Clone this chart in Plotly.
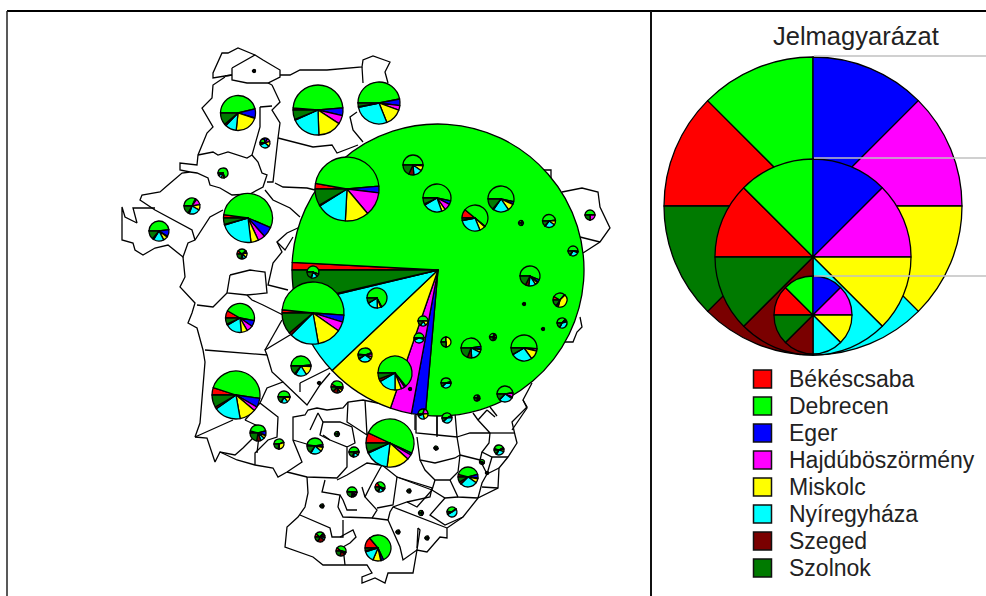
import plotly.graph_objects as go

W, H = 986, 596
CITIES = ["Békéscsaba", "Debrecen", "Eger", "Hajdúböszörmény", "Miskolc", "Nyíregyháza", "Szeged", "Szolnok"]
COLORS = ["#ff0000", "#00ff00", "#0000ff", "#ff00ff", "#ffff00", "#00ffff", "#7a0000", "#007a00"]
LEGEND_TITLE = "Jelmagyarázat"
LEGEND_Y = [379, 406, 433, 460, 487, 514, 541, 568]

# map boundaries (picture coordinates)
MAP_LINES = [
 [(232,68),(247,60),(255,55),(263,60),(280,70),(280,77),(268,83),(247,83),(232,80),(232,68)],
 [(255,55),(238,48),(228,53),(222,53),(213,73),(213,78),(225,76),(232,75)],
 [(225,77),(213,85),(212,98),(202,108),(213,127),(207,133),(198,155),(197,165),(180,163),(180,170),(190,172),(182,173),(168,185),(160,192),(142,195),(140,200),(155,210),(168,217),(192,230),(195,240)],
 [(155,208),(133,208),(137,223),(125,217),(122,207),(122,240),(133,243),(135,250),(143,255),(155,248),(168,245),(183,257),(188,243),(195,240),(210,217),(223,210)],
 [(183,257),(185,277),(180,287),(192,300),(195,303),(192,313),(188,323),(197,328),(203,350),(205,362),(200,423),(195,437),(233,420)],
 [(195,437),(207,438),(215,462),(220,452),(235,455),(243,448),(258,433)],
 [(220,452),(237,460),(255,465),(273,468),(278,477),(287,472),(302,462),(293,440),(293,417),(305,415),(308,410),(317,408),(327,410),(343,408),(348,402),(363,400),(392,406)],
 [(255,465),(255,453),(268,440),(277,437),(278,417),(260,403),(267,388),(283,382),(307,405),(320,385),(330,373)],
 [(245,420),(260,427),(257,453)],[(260,403),(245,420)],
 [(287,472),(307,477),(337,478),(347,467),(347,447),(330,440),(320,435),(323,422),(340,422),(352,427),(355,443),(347,447)],
 [(307,477),(308,493),(305,507),(298,517),(287,527),(285,547),(313,557),(323,565),(343,565),(367,565),(372,573),(362,577),(362,583),(375,578),(385,583),(388,573),(413,573),(417,550),(427,552),(440,537),(447,538),(447,528),(463,517),(478,498),(498,488),(499,468),(508,457),(517,443),(515,435),(512,422),(527,407),(523,400),(532,383)],
 [(416,413),(416,433),(437,435),(437,413)],[(437,435),(457,437),(455,413)],[(473,413),(478,420),(490,433),(470,433),(457,437)],
 [(490,433),(515,433)],[(490,433),(489,443),(482,452),(492,457),(508,457)],[(482,452),(480,460),(487,474),(482,483),(478,498)],[(487,474),(499,468)],[(492,457),(487,474)],[(482,487),(498,488)],
 [(417,437),(420,460),(435,463),(455,458),(460,455),(457,437)],[(460,455),(480,460)],[(420,460),(425,470),(435,480),(450,480),(458,472),(460,455)],
 [(450,480),(458,497),(478,498)],[(435,480),(432,490),(445,498),(458,497)],[(432,490),(400,478),(397,477),(382,465)],[(432,490),(417,507),(407,502),(393,507),(390,512),(388,520),(400,547),(403,560),(417,550),(420,530),(418,528)],
 [(445,498),(430,515),(445,525),(463,517)],[(393,507),(447,528)],[(418,528),(417,548)],
 [(205,350),(267,355),(265,350),(290,335)],[(267,355),(272,372),(283,382)],[(300,383),(330,368)],[(300,383),(300,392)],
 [(348,402),(347,422),(367,435),(365,400)],[(310,430),(318,413),(323,422)],[(293,440),(310,445)],[(323,435),(330,440)],[(415,415),(415,430)],[(437,415),(437,437)],
 [(380,465),(367,463),(347,475),(337,480)],[(325,480),(322,492),(340,495),(338,507),(343,517),(372,518),(377,510),(365,497),(372,483),(382,465)],
 [(397,477),(393,505),(377,508)],[(397,477),(432,488),(430,497),(407,502)],[(362,487),(365,497)],
 [(300,515),(330,528),(332,537),(343,537),(343,520)],[(340,537),(353,530),(356,537),(350,543),(343,547),(345,565)],[(357,510),(347,510),(343,500),(340,495)],[(388,520),(372,518)],
 [(225,76),(232,75)],[(272,85),(280,102),(272,110),(280,123),(278,138),(273,182),(267,182)],[(268,83),(272,85)],
 [(260,107),(272,106)],[(260,107),(260,127),(252,155),(258,162),(262,173),(267,175),(263,187),(250,194),(232,195),(220,188),(210,185),(208,178),(197,173),(190,172)],
 [(198,155),(213,152),(218,155),(228,152),(247,158),(252,155)],
 [(280,75),(290,75),(300,70),(327,70),(362,67),(363,60),(373,56),(390,62),(385,72),(388,83)],[(362,67),(363,83)],[(357,112),(350,117),(353,130),(363,142)],
 [(278,138),(313,147),(332,145),(337,153),(358,145)],[(275,183),(283,187),(307,188),(315,190)],[(265,190),(273,200),(290,208),(300,217)],
 [(300,227),(287,233),(277,242),(282,252),(273,263),(268,285),(288,290)],[(277,242),(285,250),(293,237)],
 [(230,275),(227,293),(247,295),(267,293),(265,272),(250,270),(230,275)],[(197,305),(213,307),(227,293)],[(247,295),(252,300),(263,305),(283,315)],[(265,350),(282,320)],
 [(543,170),(551,170),(551,178)],[(562,192),(582,188),(598,192),(600,207),(610,228),(600,242),(583,253)],[(600,242),(580,237)],[(580,317),(582,327),(577,332),(573,342),(565,342)],
 [(523,400),(527,408),(512,430)],[(487,410),(495,417)],[(490,407),(497,416)],[(478,420),(487,410)],
]

# pie symbols: centre, radius, share per city (degrees of each circle)
BIG_X, BIG_Y, BIG_R = 438, 270, 146
BIG_SHARES = [3, 272, 5.5, 8.5, 27.5, 30, 0.5, 13]
PIE_X = [238,318,379,265,223,192,159,248,242,347,313,377,313,240,236,301,284,258,279,315,354,390,337,319,337,380,352,322,409,421,398,427,320,341,378,436,452,468,499,482,487,413,437,501,475,521,549,573,530,524,560,562,543,493,524,471,446,446,477,505,423,419,395,410,423,447,590,254,365]
PIE_Y = [113,110,103,143,173,206,231,218,254,189,272,298,313,318,395,366,397,433,444,446,452,443,387,383,434,487,492,506,491,513,532,538,537,551,548,448,512,477,450,462,473,165,198,199,218,223,221,251,276,304,300,323,329,337,348,348,342,383,398,394,321,338,373,389,414,418,215,71,355]
PIE_R = [17.5,25,21,5,5,8,10,24.5,5,32,6,10,31,14.5,24,10,6,8,5,8,5,24,6,1.5,2.5,5,5,2,2,2.5,2,2,5,5,13,2,5,10,5,2.5,1.5,10,14,13,13,2.5,6.5,5,10,1.5,7,5,1.5,3.5,13,10,5,5,3,8,5,5,17,1.5,5,5,5,1.5,7]
PIE_SHARES = [
 [1,165,30,2,78,38,6,40],[5,170,18,20,55,68,2,22],[1,168,18,13,48,100,2,10],[10,70,40,40,60,120,0,20],
 [0,250,5,5,30,40,5,25],[5,110,10,45,40,80,10,60],[2,170,40,5,25,60,8,50],[8,195,25,17,18,80,2,15],
 [40,100,10,20,50,40,20,80],[10,165,12,43,43,55,2,30],[0,200,0,5,20,60,5,70],[2,240,3,3,20,60,2,30],
 [6,178,13,18,45,55,5,40],[30,160,25,25,25,65,5,25],[18,170,22,10,40,65,5,30],[3,170,5,5,55,65,7,50],
 [5,170,5,5,50,60,5,60],[15,150,30,5,20,30,30,80],[0,160,0,5,100,10,5,80],[10,160,15,5,30,80,5,55],
 [0,170,10,5,30,60,15,70],[25,180,5,12,55,58,3,22],[30,150,10,20,30,20,50,50],[0,120,0,0,60,60,0,120],
 [0,120,0,0,60,60,0,120],[60,140,10,5,20,60,10,65],[10,170,5,30,20,20,20,85],[0,120,0,0,60,60,0,120],
 [0,120,0,0,60,60,0,120],[0,120,0,0,60,60,0,120],[0,120,0,0,60,60,0,120],[0,120,0,0,60,60,0,120],
 [40,90,5,30,20,30,80,65],[40,150,5,5,10,10,60,80],[50,195,10,3,35,50,5,12],[0,200,0,0,40,40,0,80],
 [10,130,0,5,5,180,5,25],[15,150,20,5,25,100,15,30],[20,130,10,10,30,100,10,50],[0,200,0,0,40,40,0,80],
 [0,120,0,0,60,60,0,120],[0,180,0,5,30,50,30,65],[2,190,15,28,15,80,5,25],[2,190,10,3,30,70,5,50],
 [40,180,1,2,25,100,2,10],[0,120,0,0,60,60,0,120],[2,170,2,2,40,90,4,50],[1,180,5,5,10,100,9,50],
 [2,200,15,5,15,40,20,63],[0,120,0,0,60,60,0,120],[30,100,2,3,150,15,5,55],[1,130,5,20,10,130,4,60],
 [0,120,0,0,60,60,0,120],[10,100,20,20,40,40,40,90],[3,180,1,10,40,95,2,29],[1,170,15,5,15,60,25,69],
 [0,90,0,0,180,0,0,90],[5,160,10,5,5,130,5,40],[10,100,20,20,40,40,40,90],[1,170,2,30,10,100,2,45],
 [1,175,1,1,60,60,2,60],[2,170,3,3,20,140,2,20],[1,230,5,12,22,60,10,20],[0,120,0,0,60,60,0,120],
 [1,100,5,70,80,80,4,20],[1,150,5,5,15,140,4,40],[0,180,0,90,0,0,0,90],[0,120,0,0,60,60,0,120],[10,150,10,25,20,110,5,30],
]
# the three legend circles
KEY_X = [813, 813, 813]
KEY_Y = [206, 257, 315]
KEY_R = [149, 98, 39]
KEY_SHARES = [1, 1, 1, 1, 1, 1, 1, 1]
GUIDE_Y = [56, 158, 276]

fig = go.Figure()

xs, ys = [], []
for line in MAP_LINES:
    xs += [p[0] for p in line] + [None]
    ys += [p[1] for p in line] + [None]
fig.add_trace(go.Scatter(x=xs, y=ys, mode="lines", line=dict(color="#000", width=1.3), hoverinfo="skip", showlegend=False))

def pie(cx, cy, r, shares):
    fig.add_trace(go.Pie(
        values=shares, labels=CITIES, sort=False, direction="clockwise", rotation=270,
        domain=dict(x=[(cx - r) / W, (cx + r) / W], y=[1 - (cy + r) / H, 1 - (cy - r) / H]),
        marker=dict(colors=COLORS, line=dict(color="#000", width=1.3)),
        textinfo="none", hoverinfo="skip", showlegend=False))

pie(BIG_X, BIG_Y, BIG_R, BIG_SHARES)
for i in sorted(range(len(PIE_X)), key=lambda k: -PIE_R[k]):
    pie(PIE_X[i], PIE_Y[i], PIE_R[i], PIE_SHARES[i])
for x, y, r in zip(KEY_X, KEY_Y, KEY_R):
    pie(x, y, r, KEY_SHARES)

fig.add_trace(go.Scatter(
    x=[762.5] * len(CITIES), y=LEGEND_Y, mode="markers",
    marker=dict(symbol="square", size=18, color=COLORS, line=dict(color="#111", width=1.5)),
    hoverinfo="skip", showlegend=False))
fig.add_trace(go.Scatter(
    x=[789] * len(CITIES), y=[v + 2 for v in LEGEND_Y], mode="text", text=CITIES, textposition="middle right",
    textfont=dict(family="Liberation Sans", size=23, color="#222"), hoverinfo="skip", showlegend=False))

shapes = [dict(type="line", xref="x", yref="y", x0=814, x1=W, y0=y, y1=y, line=dict(color="#c0c0c0", width=1.5), layer="above") for y in GUIDE_Y]
shapes += [
    dict(type="line", xref="x", yref="y", x0=7, x1=W, y0=11, y1=11, line=dict(color="#000", width=2), layer="above"),
    dict(type="line", xref="x", yref="y", x0=7, x1=7, y0=11, y1=H, line=dict(color="#222", width=1.5), layer="above"),
    dict(type="line", xref="x", yref="y", x0=651, x1=651, y0=11, y1=H, line=dict(color="#111", width=2), layer="above"),
]
fig.update_layout(
    width=W, height=H, margin=dict(l=0, r=0, t=0, b=0), paper_bgcolor="#fff", plot_bgcolor="#fff",
    xaxis=dict(range=[0, W], visible=False, fixedrange=True),
    yaxis=dict(range=[H, 0], visible=False, fixedrange=True),
    shapes=shapes,
    annotations=[dict(x=856, y=36, xref="x", yref="y", text=LEGEND_TITLE, showarrow=False,
                      font=dict(family="Liberation Sans", size=25.5, color="#222"))],
)
fig.write_html("out.html", config=dict(displayModeBar=False),
               post_script="document.body.style.margin='0';document.body.style.overflow='hidden';")
